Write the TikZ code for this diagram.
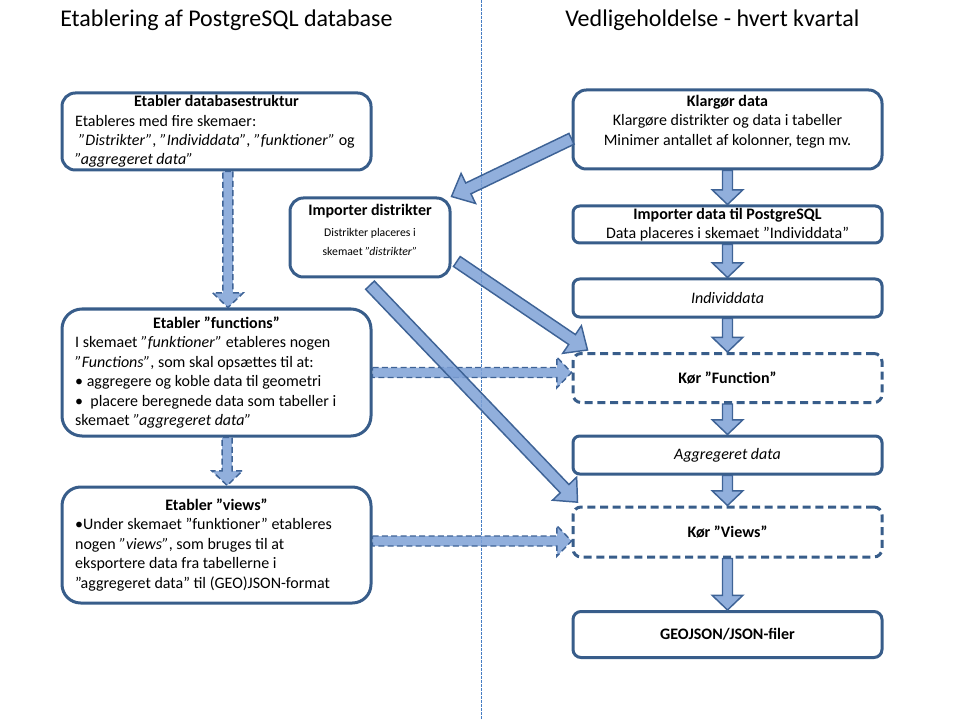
\documentclass[tikz,border=0pt]{standalone}
\usepackage{fontspec}
\setmainfont{Carlito}
\usetikzlibrary{calc}

\definecolor{boxline}{RGB}{56,93,138}
\definecolor{arrowfill}{RGB}{126,161,214}
\definecolor{arrowline}{RGB}{62,99,150}
\definecolor{divline}{RGB}{70,125,195}

\newcommand\boxfont{\fontsize{12}{14.6}\selectfont}
\newcommand\smallfont{\fontsize{8.8}{12.75}\selectfont}
\newcommand\titlefont{\fontsize{18}{22}\selectfont}
\newcommand\headline[1]{\hfill\textbf{#1}\hfill\null}
\newcommand\lift[1]{\rule[-#1]{0pt}{0pt}}

\tikzset{
    arrshaft/.store in=\arrshaft, arrhead/.store in=\arrhead, arrlen/.store in=\arrlen,
    arrshaft=3.75pt, arrhead=11.5pt, arrlen=11pt,
    box/.style={draw=boxline, line width=2.25pt, fill=white, rounded corners=10pt,
        minimum width=231.75pt, inner sep=0pt, font=\boxfont, align=center},
    leftbox/.style={box, text width=212pt, align=flush left},
    dashbox/.style={box, dash pattern=on 6pt off 3.5pt, rounded corners=6pt},
    title/.style={font=\titlefont, anchor=west, inner sep=0pt},
    fat/.style={draw=arrowline, line width=1.1pt, fill=arrowfill, fill opacity=0.85,
        to path={
        ($(\tikztostart)!\arrshaft!90:(\tikztotarget)$)
        -- ($(\tikztotarget)!\arrlen!(\tikztostart)!\arrshaft!-90:(\tikztostart)$)
        -- ($(\tikztotarget)!\arrlen!(\tikztostart)!\arrhead!-90:(\tikztostart)$)
        -- (\tikztotarget)
        -- ($(\tikztotarget)!\arrlen!(\tikztostart)!\arrhead!90:(\tikztostart)$)
        -- ($(\tikztotarget)!\arrlen!(\tikztostart)!\arrshaft!90:(\tikztostart)$)
        -- ($(\tikztostart)!\arrshaft!-90:(\tikztotarget)$)
        -- cycle}},
    bigfat/.style={fat, arrshaft=4.5pt, arrhead=12.5pt, arrlen=14pt},
    dashfat/.style={fat, dash pattern=on 4.5pt off 2.5pt},
}

\begin{document}
\begin{tikzpicture}[x=0.75pt, y=-0.75pt]
    \useasboundingbox (0,0) rectangle (960,720);
    \draw[divline, line width=0.75pt, dash pattern=on 2pt off 1pt] (481,0) -- (481,720);

    \node[title] at (60,20) (tl) {Etablering af PostgreSQL database};
    \node[title] at (565,20) (tr) {Vedligeholdelse - hvert kvartal};

    % venstre side
    \node[leftbox, minimum height=57.75pt] at (216.5,131.5) (struk) {\headline{Etabler databasestruktur}\\
        Etableres med fire skemaer:\\
        \ \textit{”Distrikter”}, \textit{”Individdata”}, \textit{”funktioner”} og\\
        \textit{”aggregeret data”}};
    \node[box, minimum width=120pt, minimum height=59.25pt] at (370,237.5) (distr)
        {\textbf{Importer distrikter}\\[1pt] {\smallfont Distrikter placeres i}\\ {\smallfont skemaet \textit{”distrikter”}\lift{11pt}}};
    \node[leftbox, minimum height=95.25pt, rounded corners=15pt] at (216.5,372.5) (func) {\headline{Etabler ”functions”}\\
        I skemaet \textit{”funktioner”} etableres nogen\\
        \textit{”Functions”}, som skal opsættes til at:\\
        • aggregere og koble data til geometri\\
        •\ \ placere beregnede data som tabeller i\\
        skemaet \textit{”aggregeret data”}};
    \node[leftbox, minimum height=87pt, rounded corners=14pt] at (216.5,545) (views) {\headline{Etabler ”views”}\\
        •Under skemaet ”funktioner” etableres\\
        nogen \textit{”views”}, som bruges til at\\
        eksportere data fra tabellerne i\\
        ”aggregeret data” til (GEO)JSON-format};

    % hoejre side
    \node[box, minimum height=59.25pt] at (727.5,129.5) (klar) {\textbf{Klargør data}\\
        Klargøre distrikter og data i tabeller\\ Minimer antallet af kolonner, tegn mv.\lift{14pt}};
    \node[box, minimum height=27.75pt, rounded corners=5pt] at (727.5,224.5) (impd)
        {\textbf{Importer data til PostgreSQL}\\ Data placeres i skemaet ”Individdata”};
    \node[box, minimum height=28.5pt, rounded corners=5pt] at (727.5,298) (indiv) {\textit{Individdata}};
    \node[dashbox, minimum height=36.75pt] at (727.5,378) (korf) {\textbf{Kør ”Function”}};
    \node[box, minimum height=28.5pt, rounded corners=5pt] at (727.5,455) (aggr) {\textit{Aggregeret data}};
    \node[dashbox, minimum height=37.5pt] at (727.5,532) (korv) {\textbf{Kør ”Views”}};
    \node[box, minimum height=34.5pt, rounded corners=6pt] at (727.5,634.5) (geo) {\textbf{GEOJSON/JSON-filer}};

    \coordinate (s1) at ([xshift=8.6pt]struk.south);
    \coordinate (s2) at ([xshift=8.6pt]func.north);
    \coordinate (f1) at ([xshift=8pt]func.south);
    \coordinate (f2) at ([xshift=8pt]views.north);
    \coordinate (fw) at (func.east);
    \coordinate (fk) at (fw -| korf.west);
    \coordinate (vw) at ([yshift=3pt]views.east);
    \coordinate (vk) at (vw -| korv.west);
    \coordinate (k1) at ([yshift=-7pt]klar.west);
    \coordinate (d1) at ([xshift=4pt, yshift=-18pt]distr.east);
    \coordinate (d2) at ([xshift=12pt, yshift=1.5pt]korf.north west);
    \coordinate (d3) at ([yshift=-5pt]distr.south);
    \coordinate (d4) at ([xshift=4.5pt, yshift=2.5pt]korv.north west);

    \draw[dashfat] (s1) to (s2);
    \draw[dashfat] (f1) to (f2);
    \draw[dashfat] (fw) to (fk);
    \draw[dashfat] (vw) to (vk);

    \draw[fat] (klar.south) to (impd.north);
    \draw[fat] (impd.south) to (indiv.north);
    \draw[fat] (indiv.south) to (korf.north);
    \draw[fat] (korf.south) to (aggr.north);
    \draw[fat] (aggr.south) to (korv.north);
    \draw[fat] (korv.south) to (geo.north);

    \draw[bigfat] (k1) to (distr.north east);
    \draw[bigfat] (d1) to (d2);
    \draw[bigfat] (d3) to (d4);
\end{tikzpicture}
\end{document}
